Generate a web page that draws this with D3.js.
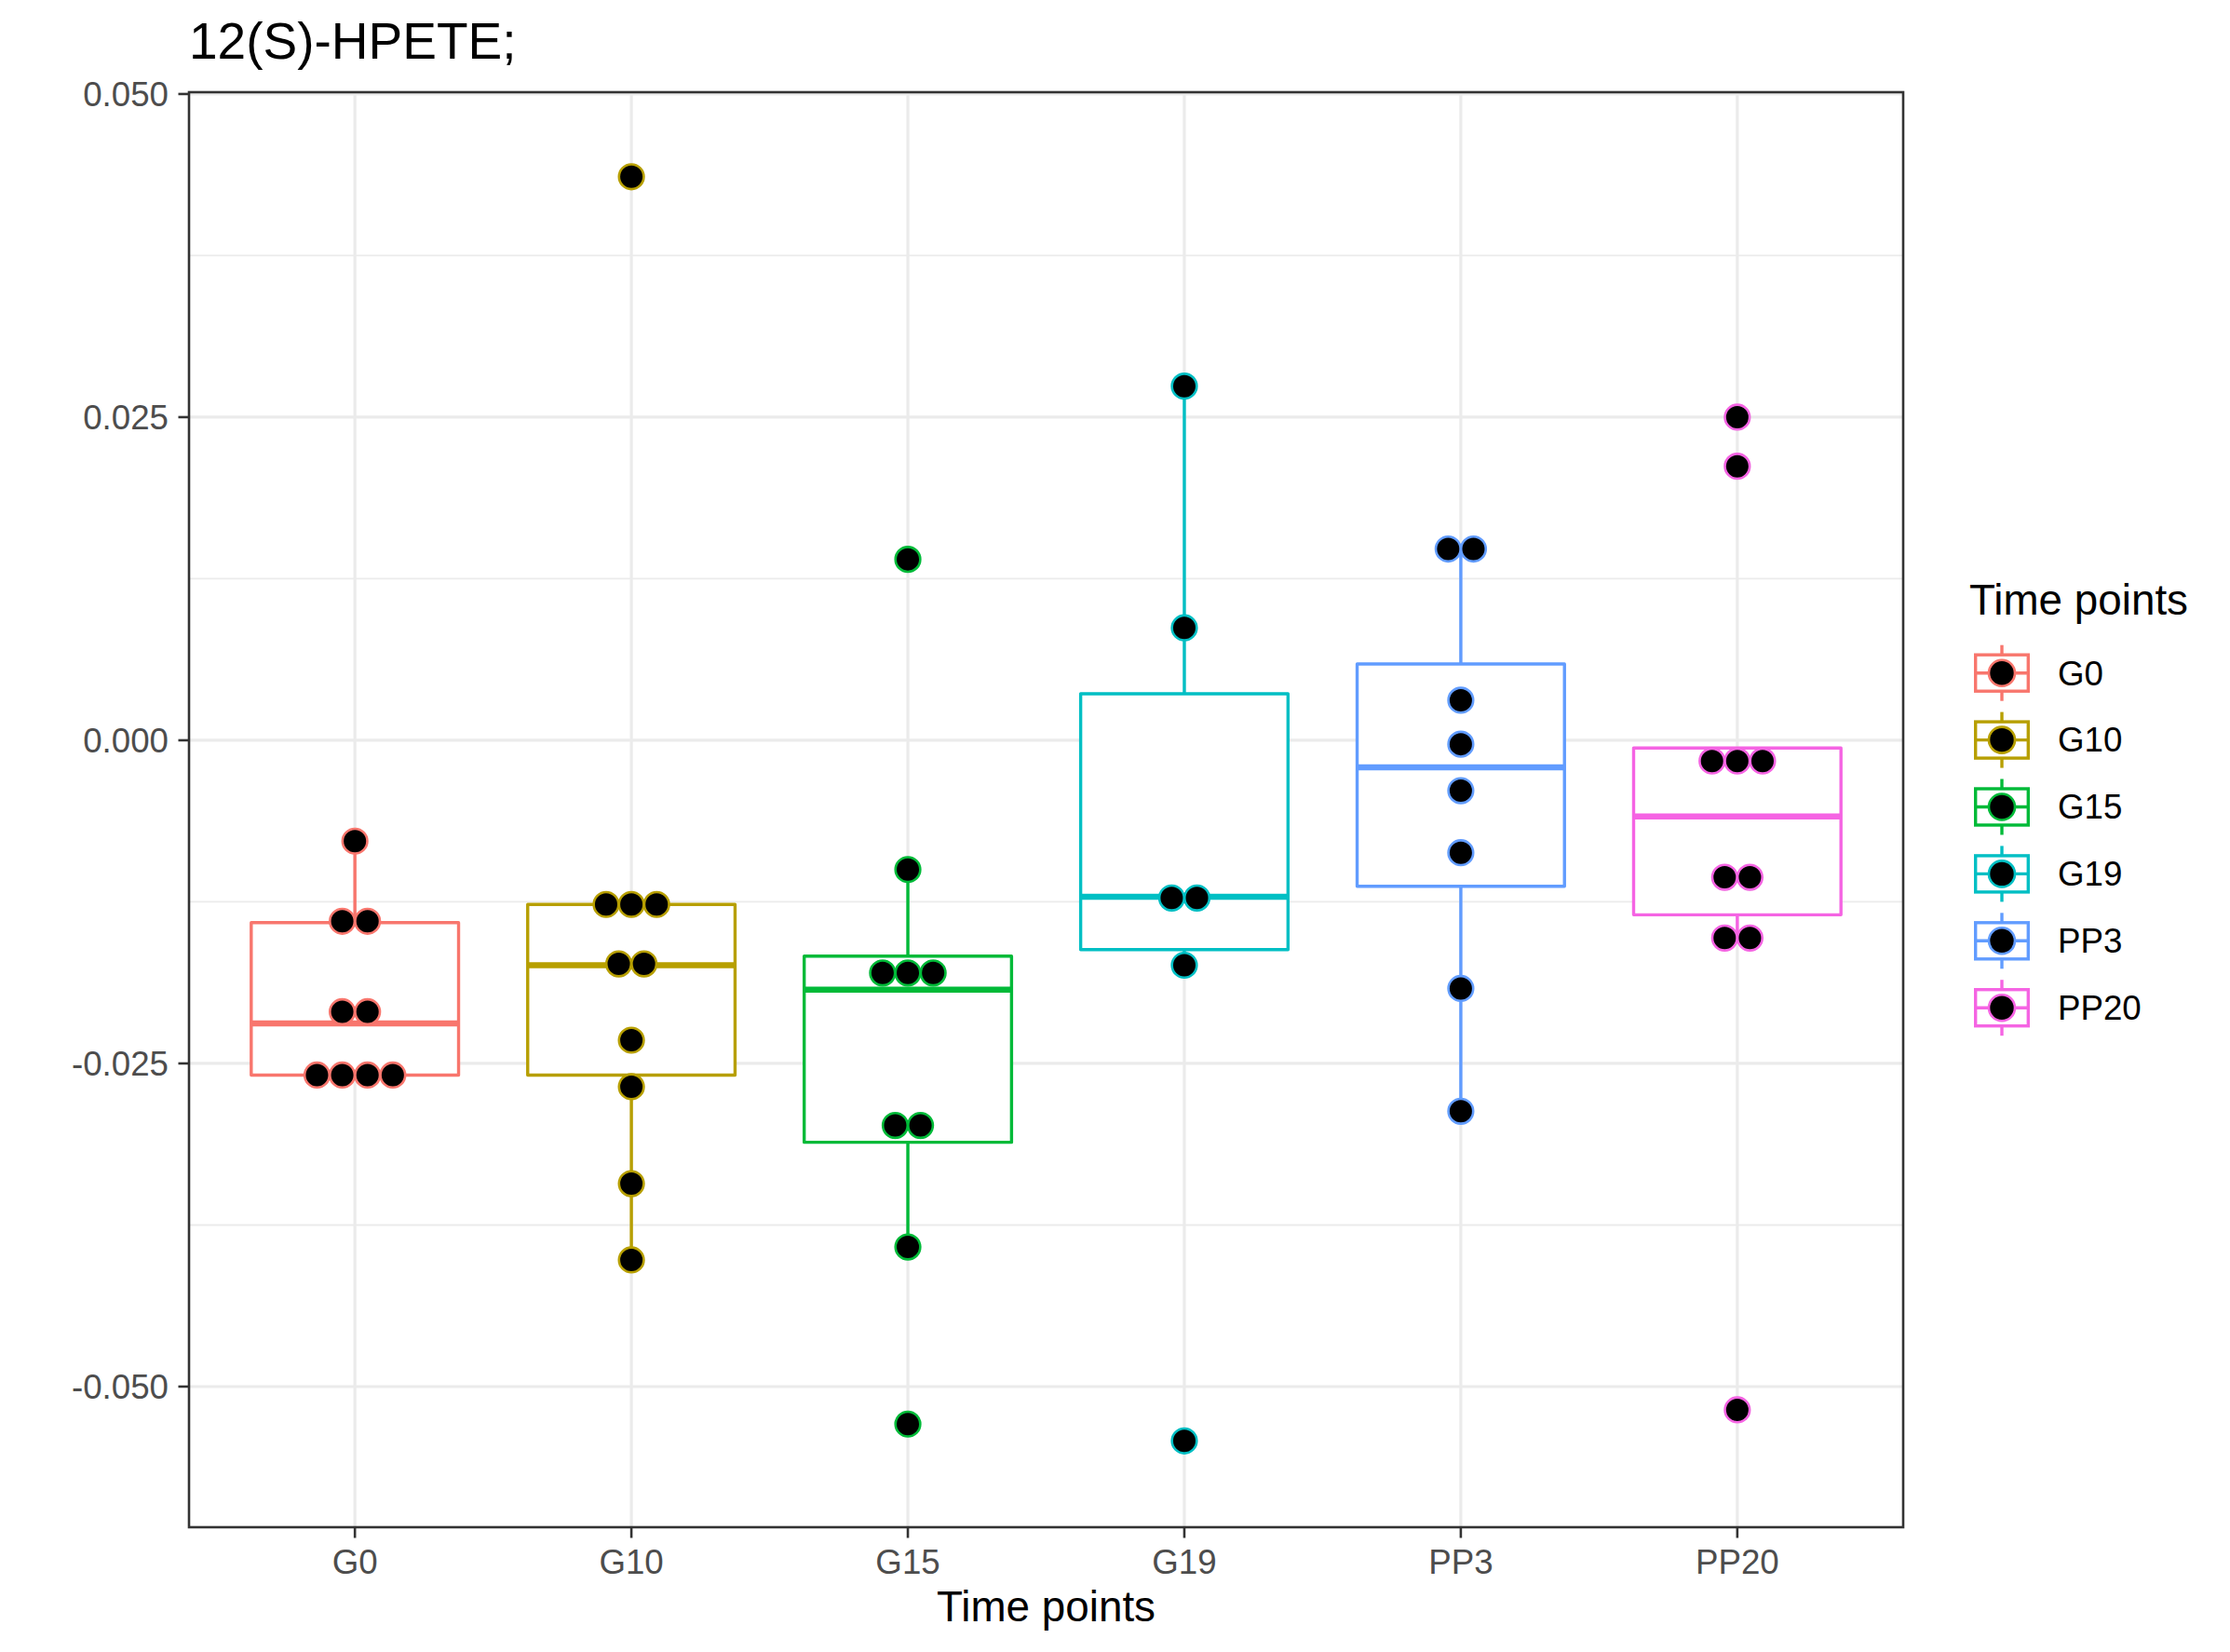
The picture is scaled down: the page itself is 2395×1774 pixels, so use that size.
<!DOCTYPE html>
<html><head><meta charset="utf-8">
<script src="https://cdn.jsdelivr.net/npm/d3@7"></script>
<style>body{margin:0;background:#fff}svg{display:block}text{font-family:"Liberation Sans",Arial,sans-serif}</style>
</head><body>
<script>
const categories = ["G0","G10","G15","G19","PP3","PP20"];
const colors = ["#F8766D","#B79F00","#00BA38","#00BFC4","#619CFF","#F564E3"];
const q1 = [-0.0259, -0.0259, -0.0311, -0.0162, -0.0113, -0.0135];
const median = [-0.0219, -0.0174, -0.0193, -0.0121, -0.0021, -0.0059];
const q3 = [-0.0141, -0.0127, -0.0167, 0.0036, 0.0059, -0.0006];
const whiskerLow = [-0.0259, -0.0402, -0.0392, -0.0174, -0.0287, -0.0153];
const whiskerHigh = [-0.0078, -0.0127, -0.0100, 0.0274, 0.0148, -0.0006];
const pointsG0 = [-0.0078, -0.0140, -0.0140, -0.0210, -0.0210, -0.0259, -0.0259, -0.0259, -0.0259];
const pointsG10 = [0.0436, -0.0127, -0.0127, -0.0127, -0.0173, -0.0173, -0.0232, -0.0268, -0.0343, -0.0402];
const pointsG15 = [0.0140, -0.0100, -0.0180, -0.0180, -0.0180, -0.0298, -0.0298, -0.0392, -0.0529];
const pointsG19 = [0.0274, 0.0087, -0.0122, -0.0122, -0.0174, -0.0542];
const pointsPP3 = [0.0148, 0.0148, 0.0031, -0.0003, -0.0039, -0.0087, -0.0192, -0.0287];
const pointsPP20 = [0.0250, 0.0212, -0.0016, -0.0016, -0.0016, -0.0106, -0.0106, -0.0153, -0.0153, -0.0518];
const yTicks = [0.05, 0.025, 0, -0.025, -0.05];
const yTickLabels = ["0.050", "0.025", "0.000", "-0.025", "-0.050"];
const yMinorTicks = [0.0375, 0.0125, -0.0125, -0.0375];
const titleText = "12(S)-HPETE;";
const xTitle = "Time points";
const legendTitle = "Time points";

const allPoints = [pointsG0, pointsG10, pointsG15, pointsG19, pointsPP3, pointsPP20];

const W = 2395, H = 1774;
const P = {left: 203, right: 2044, top: 99, bottom: 1640};
const svg = d3.select("body").append("svg").attr("width", W).attr("height", H);

const y = d3.scaleLinear().domain([-0.06088, 0.05014]).range([P.bottom, P.top]);
// ggplot discrete expansion: 0.6 units on each side
const x = d3.scalePoint().domain(categories).range([P.left, P.right]).padding(0.6);
const unit = x.step();
const xc = c => x(c);

// grid
const g = svg.append("g");
g.selectAll(".minor").data(yMinorTicks).enter().append("line")
  .attr("x1", P.left).attr("x2", P.right).attr("y1", d => y(d)).attr("y2", d => y(d))
  .attr("stroke", "#EBEBEB").attr("stroke-width", 1.8);
g.selectAll(".major").data(yTicks).enter().append("line")
  .attr("x1", P.left).attr("x2", P.right).attr("y1", d => y(d)).attr("y2", d => y(d))
  .attr("stroke", "#EBEBEB").attr("stroke-width", 3.2);
g.selectAll(".vmajor").data(categories).enter().append("line")
  .attr("x1", d => xc(d)).attr("x2", d => xc(d)).attr("y1", P.top).attr("y2", P.bottom)
  .attr("stroke", "#EBEBEB").attr("stroke-width", 3.2);

// boxes
const bw = unit * 0.75;
const bx = svg.append("g");
categories.forEach((c, i) => {
  const cx = xc(c), col = colors[i];
  const gg = bx.append("g");
  if (whiskerHigh[i] > q3[i]) gg.append("line").attr("x1", cx).attr("x2", cx)
    .attr("y1", y(q3[i])).attr("y2", y(whiskerHigh[i])).attr("stroke", col).attr("stroke-width", 3.4);
  if (whiskerLow[i] < q1[i]) gg.append("line").attr("x1", cx).attr("x2", cx)
    .attr("y1", y(q1[i])).attr("y2", y(whiskerLow[i])).attr("stroke", col).attr("stroke-width", 3.4);
  gg.append("rect").attr("x", cx - bw/2).attr("width", bw)
    .attr("y", y(q3[i])).attr("height", y(q1[i]) - y(q3[i]))
    .attr("fill", "white").attr("stroke", col).attr("stroke-width", 3.4).attr("stroke-linejoin", "round");
  gg.append("line").attr("x1", cx - bw/2).attr("x2", cx + bw/2)
    .attr("y1", y(median[i])).attr("y2", y(median[i])).attr("stroke", col).attr("stroke-width", 6.5);
});

// dots (stacked centered when equal values)
const r = 13.3;
const dg = svg.append("g");
categories.forEach((c, i) => {
  const groups = d3.groups(allPoints[i], v => v);
  groups.forEach(([v, arr]) => {
    const n = arr.length;
    arr.forEach((_, k) => {
      dg.append("circle").attr("cx", xc(c) + (k - (n - 1) / 2) * 2 * r * 1.02)
        .attr("cy", y(v)).attr("r", r).attr("fill", "black")
        .attr("stroke", colors[i]).attr("stroke-width", 2.6);
    });
  });
});

// panel border
svg.append("rect").attr("x", P.left).attr("y", P.top).attr("width", P.right - P.left).attr("height", P.bottom - P.top)
  .attr("fill", "none").attr("stroke", "#333333").attr("stroke-width", 2.6);

// y axis
const ya = svg.append("g");
yTicks.forEach((t, k) => {
  ya.append("line").attr("x1", P.left - 11.5).attr("x2", P.left).attr("y1", y(t)).attr("y2", y(t))
    .attr("stroke", "#333333").attr("stroke-width", 2.6);
  ya.append("text").attr("x", P.left - 22).attr("y", y(t) + 12.8).attr("text-anchor", "end")
    .attr("font-size", 36.7).attr("fill", "#4D4D4D").text(yTickLabels[k]);
});
// x axis
const xa = svg.append("g");
categories.forEach(c => {
  xa.append("line").attr("x1", xc(c)).attr("x2", xc(c)).attr("y1", P.bottom).attr("y2", P.bottom + 11.5)
    .attr("stroke", "#333333").attr("stroke-width", 2.6);
  xa.append("text").attr("x", xc(c)).attr("y", 1690).attr("text-anchor", "middle")
    .attr("font-size", 36.7).attr("fill", "#4D4D4D").text(c);
});
svg.append("text").attr("x", (P.left + P.right) / 2).attr("y", 1741).attr("text-anchor", "middle")
  .attr("font-size", 45.8).attr("fill", "black").text(xTitle);
svg.append("text").attr("x", P.left).attr("y", 63).attr("font-size", 55).attr("fill", "black").text(titleText);

// legend
const lg = svg.append("g");
lg.append("text").attr("x", 2115).attr("y", 660).attr("font-size", 45.8).attr("fill", "black").text(legendTitle);
categories.forEach((c, i) => {
  const cy = 722.7 + i * 71.9, cx = 2150, col = colors[i];
  lg.append("line").attr("x1", cx).attr("x2", cx).attr("y1", cy - 30).attr("y2", cy + 30)
    .attr("stroke", col).attr("stroke-width", 3.4);
  lg.append("rect").attr("x", cx - 28.3).attr("y", cy - 19.5).attr("width", 56.6).attr("height", 39)
    .attr("fill", "white").attr("stroke", col).attr("stroke-width", 3.4);
  lg.append("line").attr("x1", cx - 28.3).attr("x2", cx + 28.3).attr("y1", cy).attr("y2", cy)
    .attr("stroke", col).attr("stroke-width", 3.4);
  lg.append("circle").attr("cx", cx).attr("cy", cy).attr("r", 14).attr("fill", "black")
    .attr("stroke", col).attr("stroke-width", 2.6);
  lg.append("text").attr("x", 2210).attr("y", cy + 12.8).attr("font-size", 36.7).attr("fill", "black").text(c);
});
</script>
</body></html>
